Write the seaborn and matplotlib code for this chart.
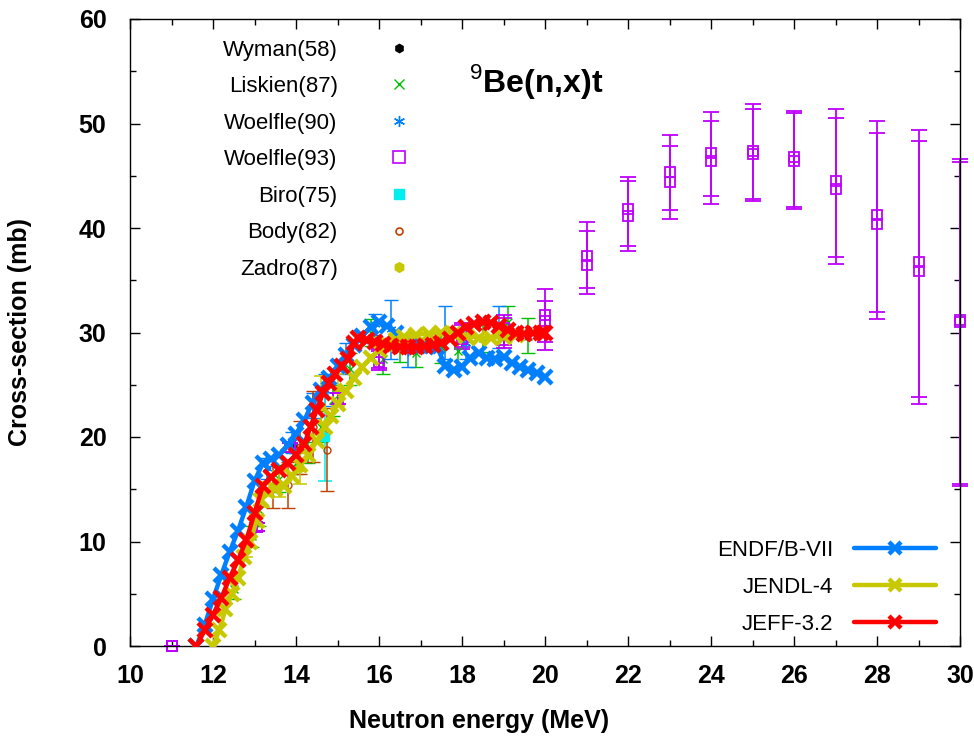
import numpy as np
import pandas as pd
import matplotlib
matplotlib.use("Agg")
import matplotlib.pyplot as plt
import seaborn as sns
from matplotlib.lines import Line2D
from matplotlib.ticker import MultipleLocator

# ---------------- data ----------------
# Evaluations
endf_e = [11.6, 11.8, 12.0, 12.2, 12.4, 12.6, 12.8, 13.0, 13.2, 13.4, 13.6, 13.8, 14.0, 14.2,
          14.4, 14.6, 14.8, 15.0, 15.2, 15.4, 15.6, 15.8, 16.0, 16.2, 16.4, 16.6, 16.8, 17.0,
          17.2, 17.4, 17.6, 17.8, 18.0, 18.2, 18.4, 18.6, 18.8, 19.0, 19.2, 19.4, 19.6, 19.8, 20.0]
endf_s = [0.0, 2.0, 4.5, 6.8, 9.0, 11.0, 13.3, 15.8, 17.5, 17.9, 18.3, 19.2, 20.3, 21.6,
          23.3, 24.5, 25.6, 26.8, 27.8, 28.8, 29.7, 30.5, 31.0, 30.6, 30.0, 29.3, 28.9, 28.7,
          28.7, 28.6, 26.8, 26.4, 26.7, 27.6, 28.0, 27.6, 27.5, 27.7, 27.1, 26.7, 26.4, 26.1, 25.7]

jendl_e = [12.0, 12.15, 12.3, 12.45, 12.6, 12.75, 12.9, 13.05, 13.15, 13.3, 13.5, 13.7, 13.9,
           14.1, 14.3, 14.5, 14.7, 14.85, 15.0, 15.2, 15.4, 15.6, 15.8, 16.0, 16.2, 16.4,
           16.6, 16.9, 17.2, 17.5, 17.8, 18.1, 18.4, 18.7, 19.0, 19.3]
jendl_s = [0.0, 1.5, 3.5, 5.0, 6.5, 8.5, 10.0, 12.0, 14.0, 14.8, 15.0, 15.3, 16.3,
           17.3, 18.3, 19.6, 21.0, 22.0, 23.2, 24.4, 25.6, 26.7, 27.6, 28.3, 28.9, 29.3,
           29.6, 29.8, 29.9, 30.0, 29.9, 29.7, 29.5, 29.5, 29.6, 29.8]

jeff_e = [11.6, 11.8, 12.0, 12.2, 12.4, 12.6, 12.8, 13.0, 13.2, 13.4, 13.6, 13.8, 14.0, 14.2,
          14.35, 14.5, 14.65, 14.8, 14.95, 15.1, 15.25, 15.4, 15.5, 15.7, 15.9, 16.1, 16.3,
          16.5, 16.7, 16.9, 17.1, 17.3, 17.5, 17.7, 17.9, 18.1, 18.3, 18.5, 18.7, 18.9, 19.1,
          19.3, 19.5, 19.7, 19.9, 20.0]
jeff_s = [0.0, 1.5, 3.0, 4.6, 6.5, 8.2, 10.1, 12.7, 15.3, 16.2, 16.8, 17.5, 18.3, 19.3,
          21.0, 22.6, 24.2, 25.2, 26.0, 26.8, 27.5, 29.0, 29.5, 29.3, 29.1, 28.9, 28.7,
          28.6, 28.6, 28.6, 28.7, 28.8, 29.0, 29.4, 30.0, 30.5, 30.8, 31.0, 30.9, 30.6, 30.2,
          30.0, 29.9, 30.0, 30.0, 30.0]

# Experiments
wyman_e = [13.95]
wyman_s = [19.2]

liskien_e = [12.5, 12.95, 13.1, 13.6, 14.0, 14.3, 14.6, 14.9, 15.3, 15.8, 16.1, 16.5, 16.9,
             17.5, 17.9, 18.5, 19.1, 19.6]
liskien_s = [5.5, 10.5, 13.0, 16.0, 17.5, 18.5, 21.0, 23.5, 26.5, 30.0, 27.5, 28.5, 28.0,
             28.6, 28.2, 29.5, 31.0, 29.7]
liskien_err = [1.0, 1.0, 1.5, 1.3, 1.0, 1.0, 1.5, 1.5, 1.5, 1.3, 1.5, 1.3, 1.3,
               1.5, 1.5, 1.4, 1.5, 1.7]

woelfle90_e = [13.3, 13.9, 14.4, 14.7, 15.2, 15.9, 16.3, 16.7, 17.6, 18.1, 18.9]
woelfle90_s = [17.0, 19.5, 23.0, 24.5, 27.5, 30.8, 30.3, 28.2, 30.0, 29.0, 30.5]
woelfle90_err = [1.0, 1.0, 1.2, 1.5, 1.5, 1.0, 2.8, 1.5, 2.5, 1.5, 2.0]

# Woelfle(93): two closely spaced entries per energy
woelfle93_e = [11.0, 13.05, 13.85, 15.0, 16.0, 18.0, 19.0, 20.0, 21.0, 22.0, 23.0, 24.0,
               25.0, 26.0, 27.0, 28.0, 29.0, 30.0]
woelfle93a_s = [0.0, 11.4, 19.0, 23.7, 27.6, 29.8, 30.4, 31.7, 37.3, 41.85, 45.4, 47.2,
                47.35, 46.75, 44.5, 41.2, 36.7, 31.15]
woelfle93a_lo = [0.0, 11.0, 18.6, 23.2, 26.6, 28.6, 28.8, 29.1, 34.3, 38.3, 41.7, 43.1,
                 42.8, 42.0, 37.2, 32.0, 23.8, 15.5]
woelfle93a_hi = [0.0, 11.8, 19.4, 24.2, 28.4, 30.9, 31.7, 34.2, 40.6, 44.9, 48.9, 51.1,
                 51.9, 51.2, 51.4, 50.2, 49.4, 46.6]
woelfle93b_s = [0.0, 11.4, 19.0, 23.7, 27.2, 29.4, 30.0, 31.1, 36.5, 41.15, 44.4, 46.4,
                47.05, 46.45, 43.7, 40.4, 35.9, 31.05]
woelfle93b_lo = [0.0, 11.0, 18.6, 23.2, 26.4, 28.4, 28.5, 28.3, 33.7, 37.8, 40.9, 42.3,
                 42.6, 41.8, 36.6, 31.3, 23.2, 15.3]
woelfle93b_hi = [0.0, 11.8, 19.4, 24.2, 28.2, 30.7, 31.4, 33.0, 39.7, 44.5, 47.8, 50.2,
                 51.4, 51.0, 50.5, 49.1, 48.3, 46.3]

biro_e = [14.7]
biro_s = [20.0]
biro_err = [4.2]

body_e = [13.45, 13.8, 14.1, 14.4, 14.75]
body_s = [15.2, 15.4, 19.0, 21.0, 18.8]
body_err = [2.0, 2.2, 2.5, 3.4, 4.0]

zadro_e = [12.8, 13.2, 13.6, 14.1, 14.6, 15.0]
zadro_s = [9.5, 14.5, 15.5, 17.0, 23.0, 24.5]
zadro_err = [1.0, 1.2, 1.2, 1.5, 2.8, 1.5]

x_ticks = [10, 12, 14, 16, 18, 20, 22, 24, 26, 28, 30]
y_ticks = [0, 10, 20, 30, 40, 50, 60]

# colours
C_BLACK = "#000000"
C_GREEN = "#00c000"
C_BLUE = "#0080ff"
C_MAGENTA = "#c000ff"
C_CYAN = "#00eeee"
C_BROWN = "#c04000"
C_OLIVE = "#c8c800"
C_RED = "#ff0000"

# ---------------- style ----------------
sns.set_theme(style="ticks")
plt.rcParams['font.family'] = ['Liberation Sans', 'DejaVu Sans']
plt.rcParams['mathtext.fontset'] = 'custom'
plt.rcParams['mathtext.rm'] = 'Liberation Sans'
plt.rcParams['mathtext.bf'] = 'Liberation Sans:bold'
for key in ['text.color', 'axes.labelcolor', 'xtick.color', 'ytick.color',
            'xtick.labelcolor', 'ytick.labelcolor', 'axes.edgecolor']:
    plt.rcParams[key] = 'black'

fig = plt.figure(figsize=(9.74, 7.47), dpi=100)
ax = fig.add_axes([130 / 974, 1 - 646 / 747, 830 / 974, 627 / 747])

eb_kw = dict(linestyle='none', elinewidth=1.1, capthick=1.1, capsize=5, zorder=2)

# experiments (drawn under evaluations)
ax.errorbar(liskien_e, liskien_s, yerr=liskien_err, color=C_GREEN, marker='x',
            markersize=6, markeredgewidth=1.0, **eb_kw)
ax.errorbar(woelfle90_e, woelfle90_s, yerr=woelfle90_err, color=C_BLUE, marker=(6, 2, 0),
            markersize=7, markeredgewidth=1.0, **eb_kw)
ax.errorbar(biro_e, biro_s, yerr=biro_err, color=C_CYAN, marker='s', markersize=6, **eb_kw)
ax.errorbar(body_e, body_s, yerr=body_err, color=C_BROWN, marker='o', markersize=5,
            markerfacecolor='none', markeredgewidth=1.0, **eb_kw)
ax.errorbar(zadro_e, zadro_s, yerr=zadro_err, color=C_OLIVE, marker='h', markersize=6, **eb_kw)
sns.scatterplot(x=wyman_e, y=wyman_s, ax=ax, color=C_BLACK, marker='h', s=30,
                linewidth=0, zorder=2)

w93 = pd.DataFrame({"E": woelfle93_e,
                    "sa": woelfle93a_s, "loa": woelfle93a_lo, "hia": woelfle93a_hi,
                    "sb": woelfle93b_s, "lob": woelfle93b_lo, "hib": woelfle93b_hi})
for s_col, lo_col, hi_col in [("sa", "loa", "hia"), ("sb", "lob", "hib")]:
    ax.errorbar(w93["E"], w93[s_col], yerr=[w93[s_col] - w93[lo_col], w93[hi_col] - w93[s_col]],
                color=C_MAGENTA, marker='s', markersize=7.5, markerfacecolor='none',
                markeredgewidth=1.3, linestyle='none', elinewidth=1.3, capthick=1.3,
                capsize=5.5, zorder=2, clip_on=False)

# evaluations
line_kw = dict(marker='x', markersize=10, markeredgewidth=3.2, linewidth=3.2, sort=False,
               legend=False)
sns.lineplot(x=endf_e, y=endf_s, ax=ax, color=C_BLUE, markeredgecolor=C_BLUE, zorder=3, **line_kw)
sns.lineplot(x=jendl_e, y=jendl_s, ax=ax, color=C_OLIVE, markeredgecolor=C_OLIVE, zorder=4, **line_kw)
sns.lineplot(x=jeff_e, y=jeff_s, ax=ax, color=C_RED, markeredgecolor=C_RED, zorder=5, **line_kw)

# axes
ax.set_xlim(10, 30)
ax.set_ylim(0, 60)
ax.set_xticks(x_ticks)
ax.set_yticks(y_ticks)
ax.xaxis.set_minor_locator(MultipleLocator(1))
ax.yaxis.set_minor_locator(MultipleLocator(5))
ax.tick_params(which='both', direction='in', top=True, right=True, color='black', width=1)
ax.tick_params(which='major', length=7, labelsize=18, labelcolor='black')
ax.tick_params(axis='x', which='major', pad=13)
ax.tick_params(axis='y', which='major', pad=17)
ax.tick_params(which='minor', length=4)
for lab in ax.get_xticklabels() + ax.get_yticklabels():
    lab.set_fontweight('bold')
for sp in ax.spines.values():
    sp.set_color('black')
    sp.set_linewidth(1.0)

ax.set_xlabel("Neutron energy (MeV)", fontsize=18, fontweight='bold', color='black')
ax.set_ylabel("Cross-section (mb)", fontsize=18, fontweight='bold', color='black')
ax.xaxis.set_label_coords(0.42, -0.100)
ax.yaxis.set_label_coords(-0.118, 0.5)

ax.text(0.408, 0.90, r"$^{9}$Be(n,x)t", transform=ax.transAxes, fontsize=23,
        fontweight='bold', ha='left', va='center', color='black')

# legends
exp_handles = [
    Line2D([], [], linestyle='none', marker='h', color=C_BLACK, markersize=6),
    Line2D([], [], linestyle='none', marker='x', color=C_GREEN, markersize=7, markeredgewidth=1.0),
    Line2D([], [], linestyle='none', marker=(6, 2, 0), color=C_BLUE, markersize=8, markeredgewidth=1.0),
    Line2D([], [], linestyle='none', marker='s', color=C_MAGENTA, markersize=8,
           markerfacecolor='none', markeredgewidth=1.2),
    Line2D([], [], linestyle='none', marker='s', color=C_CYAN, markersize=7),
    Line2D([], [], linestyle='none', marker='o', color=C_BROWN, markersize=5,
           markerfacecolor='none', markeredgewidth=1.2),
    Line2D([], [], linestyle='none', marker='h', color=C_OLIVE, markersize=7),
]
exp_labels = ["Wyman(58)", "Liskien(87)", "Woelfle(90)", "Woelfle(93)", "Biro(75)",
              "Body(82)", "Zadro(87)"]
leg1 = ax.legend(exp_handles, exp_labels, loc='upper right', bbox_to_anchor=(0.364, 0.985),
                 frameon=False, markerfirst=False, fontsize=16, handlelength=2.0,
                 handletextpad=1.75, labelspacing=0.70, borderpad=0, numpoints=1,
                 labelcolor='black')
ax.add_artist(leg1)

eval_handles = [
    Line2D([], [], color=C_BLUE, marker='x', markersize=9, markeredgewidth=3.2, linewidth=3.2),
    Line2D([], [], color=C_OLIVE, marker='x', markersize=9, markeredgewidth=3.2, linewidth=3.2),
    Line2D([], [], color=C_RED, marker='x', markersize=9, markeredgewidth=3.2, linewidth=3.2),
]
eval_labels = ["ENDF/B-VII", "JENDL-4", "JEFF-3.2"]
ax.legend(eval_handles, eval_labels, loc='lower right', bbox_to_anchor=(0.984, 0.0),
          frameon=False, markerfirst=False, fontsize=16, handlelength=3.65,
          handletextpad=0.95, labelspacing=0.72, borderpad=0, numpoints=1,
          labelcolor='black')

fig.savefig("out.png", dpi=100)
